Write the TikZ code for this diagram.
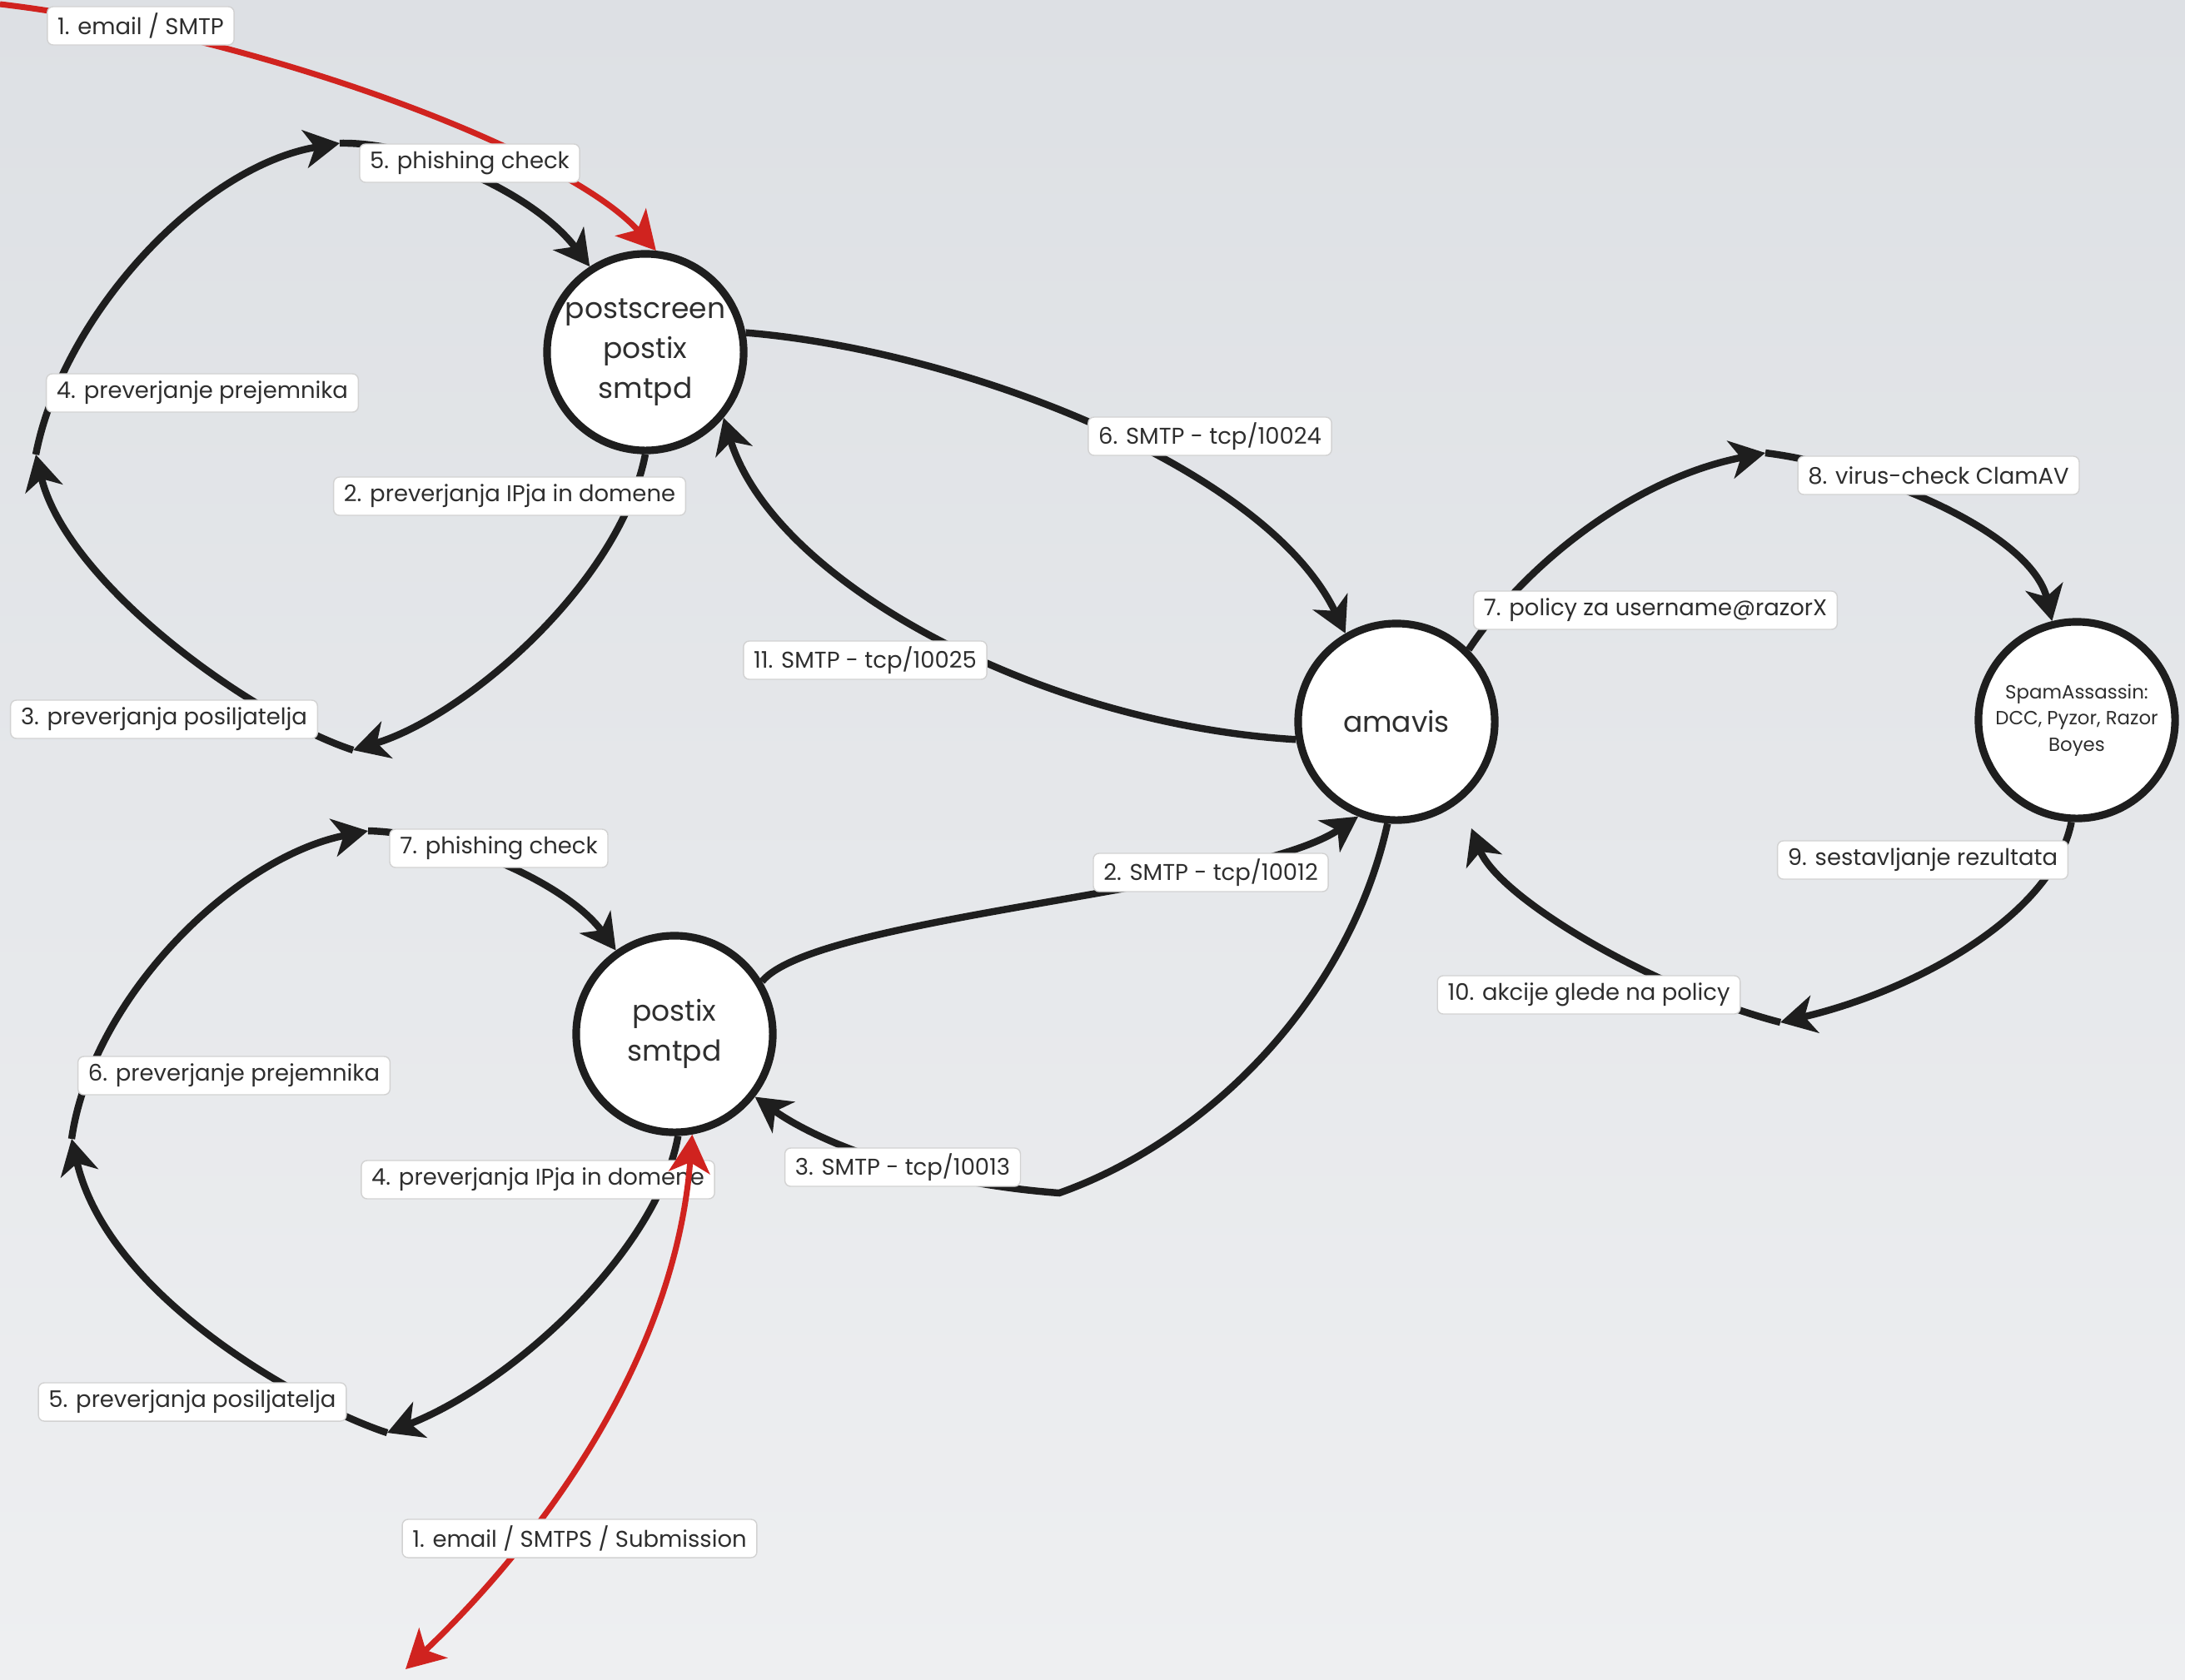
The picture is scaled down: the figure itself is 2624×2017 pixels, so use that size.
\documentclass[tikz,border=0pt]{standalone}
\usepackage{fontspec}
\setmainfont{Poppins}
\usetikzlibrary{arrows.meta}
\definecolor{bgtop}{HTML}{DDE0E4}
\definecolor{bgbot}{HTML}{EEEFF1}
\definecolor{ink}{HTML}{1E1E1E}
\definecolor{txt}{HTML}{2E2E2E}
\definecolor{redline}{HTML}{D0231F}
\definecolor{lblborder}{HTML}{D2D2D2}
\tikzset{
  proc/.style={circle, draw=ink, line width=2.6pt, fill=white, minimum size=2.36cm, inner sep=0pt, align=center, font=\fontsize{9.8}{13.6}\selectfont, text=txt},
  lbl/.style={fill=white, draw=lblborder, line width=0.4pt, rounded corners=2pt, inner xsep=3.5pt, inner ysep=0pt, minimum height=0.46cm, font=\fontsize{7.8}{9}\selectfont, text=txt},
  flow/.style={draw=ink, line width=2.4pt, -{Stealth[length=12pt,width=13pt,inset=3.5pt]}},
  redflow/.style={draw=redline, line width=2pt, -{Stealth[length=13pt,width=14pt,inset=3.5pt]}},
  redboth/.style={draw=redline, line width=2pt, {Stealth[length=13pt,width=14pt,inset=3.5pt]}-{Stealth[length=13pt,width=14pt,inset=3.5pt]}},
}
\begin{document}
\begin{tikzpicture}[x=0.01cm,y=-0.01cm]
\shade[top color=bgtop,bottom color=bgbot] (0,0) rectangle (2624,2017);
\useasboundingbox (0,0) rectangle (2624,2017);

% process nodes
\node[proc] (ps) at (775,423) {postscreen\\postix\\smtpd};
\node[proc] (am) at (1677,867) {amavis};
\node[proc, font=\fontsize{6.5}{9}\selectfont] (sa) at (2494,865) {SpamAssassin:\\DCC, Pyzor, Razor\\Boyes};
\node[proc] (px) at (810,1242) {postix\\smtpd};

% bend points
\coordinate (rin) at (0,5);
\coordinate (p3) at (424,901);
\coordinate (p4) at (43,546);
\coordinate (p5) at (408,172);
\coordinate (p8) at (2120,544);
\coordinate (p10) at (2138,1228);
\coordinate (p11) at (1767,995);
\coordinate (k3) at (1272,1433);
\coordinate (q5) at (465,1721);
\coordinate (q6) at (86,1368);
\coordinate (q7) at (442,998);
\coordinate (rout) at (487,2005);

% upper loop
\draw[flow] (ps.270) .. controls (745,700) and (560,860) .. (p3);
\draw[flow] (p3) .. controls (300,860) and (80,700) .. (p4);
\draw[flow] (p4) .. controls (75,380) and (240,200) .. (p5);
\draw[flow] (p5) .. controls (500,170) and (640,230) .. (ps.123);
% postscreen <-> amavis
\draw[flow] (ps.11) .. controls (1150,420) and (1520,560) .. (am.120);
\draw[flow] (am.190) .. controls (1250,870) and (930,700) .. (ps.-40);
% amavis loop
\draw[flow] (am.45) .. controls (1830,680) and (1960,575) .. (p8);
\draw[flow] (p8) .. controls (2250,560) and (2440,640) .. (sa.104);
\draw[flow] (sa.267) .. controls (2465,1100) and (2300,1190) .. (p10);
\draw[flow] (p10) .. controls (1990,1190) and (1800,1080) .. (p11);
% postix <-> amavis
\draw[flow] (px.31) .. controls (980,1100) and (1500,1070) .. (am.248);
\draw[flow] (am.265) .. controls (1620,1200) and (1450,1370) .. (k3) .. controls (1100,1420) and (980,1370) .. (px.-38);
% lower loop
\draw[flow] (px.272) .. controls (790,1500) and (620,1660) .. (q5);
\draw[flow] (q5) .. controls (370,1690) and (130,1560) .. (q6);
\draw[flow] (q6) .. controls (110,1200) and (280,1030) .. (q7);
\draw[flow] (q7) .. controls (540,1000) and (680,1060) .. (px.125);
% incoming smtp
\draw[redflow] (rin) .. controls (300,40) and (680,180) .. (ps.84);

% labels
\node[lbl] (l1) at (169,31) {1. email / SMTP};
\node[lbl] (l5) at (564,196) {5. phishing check};
\node[lbl] (l4) at (243,472) {4. preverjanje prejemnika};
\node[lbl] (l2) at (612,596) {2. preverjanja IPja in domene};
\node[lbl] (l3) at (197,864) {3. preverjanja posiljatelja};
\node[lbl] (l6) at (1453,524) {6. SMTP - tcp/10024};
\node[lbl] (l11) at (1039,793) {11. SMTP - tcp/10025};
\node[lbl] (l8) at (2328,571) {8. virus-check ClamAV};
\node[lbl] (l7) at (1988,733) {7. policy za username@razorX};
\node[lbl] (l9) at (2309,1033) {9. sestavljanje rezultata};
\node[lbl] (l10) at (1908,1195) {10. akcije glede na policy};
\node[lbl] (m2) at (1454,1048) {2. SMTP - tcp/10012};
\node[lbl] (m7) at (599,1019) {7. phishing check};
\node[lbl] (m6) at (281,1292) {6. preverjanje prejemnika};
\node[lbl] (m4) at (646,1417) {4. preverjanja IPja in domene};
\node[lbl] (m3) at (1084,1402) {3. SMTP - tcp/10013};
\node[lbl] (m5) at (231,1684) {5. preverjanja posiljatelja};

% submission (drawn over label 4)
\draw[redboth] (rout) .. controls (640,1860) and (810,1640) .. (px.-80);
\node[lbl] (m1) at (696,1848) {1. email / SMTPS / Submission};
\end{tikzpicture}
\end{document}
